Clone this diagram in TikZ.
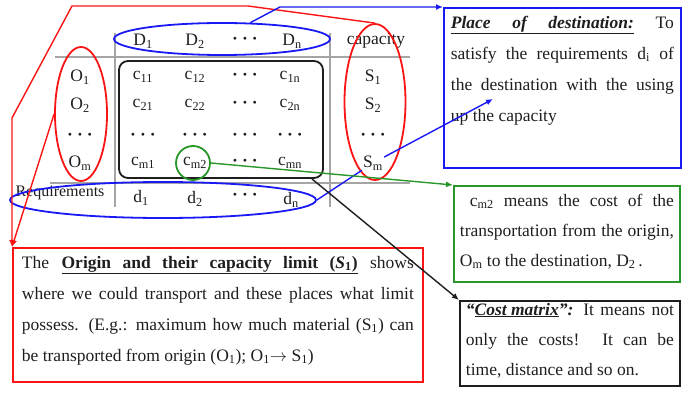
\documentclass[tikz,border=0pt]{standalone}
\usepackage{fontspec}
\setmainfont{Liberation Serif}
\usetikzlibrary{arrows.meta,positioning,shapes.geometric}

\definecolor{linered}{RGB}{250,20,20}
\definecolor{lineblue}{RGB}{25,25,245}
\definecolor{linegreen}{RGB}{40,150,40}
\definecolor{gridgray}{RGB}{165,165,165}
\definecolor{inkgray}{RGB}{30,30,30}

\newcommand{\tdots}{\textbf{·\hspace{4pt}·\hspace{4pt}·}}

\begin{document}
\begin{tikzpicture}[
    x=1pt, y=-1pt,
    font=\fontsize{17.5}{31}\selectfont,
    every node/.style={text=inkgray},
    cell/.style={inner sep=1pt},
    ring/.style={draw, ellipse, line width=1.8pt, inner sep=0pt},
    notebox/.style={draw, line width=1.8pt, anchor=north west, align=justify, inner ysep=8pt},
    arrow/.style={-{Latex[length=7pt,width=6pt]}, line width=1.4pt},
    gridline/.style={gridgray, line width=1.4pt}
  ]
    \useasboundingbox (0,0) rectangle (685,398);

    % table rules
    \draw[gridline] (55,57) -- (410,57);
    \draw[gridline] (50,183) -- (410,183);
    \draw[gridline] (115,33) -- (115,207);
    \draw[gridline] (330,33) -- (330,207);

    % header
    \node[cell] (d1) at (143,41) {D\textsubscript{1}};
    \node[cell] (d2) at (195,41) {D\textsubscript{2}};
    \node[cell] (ddots) at (245,41) {\tdots};
    \node[cell] (dn) at (292,41) {D\textsubscript{n}};
    \node[cell] (cap) at (376,41) {capacity};

    % rows
    \node[cell] (o1) at (80,77) {O\textsubscript{1}};
    \node[cell] (c11) at (143,77) {c\textsubscript{11}};
    \node[cell] (c12) at (195,77) {c\textsubscript{12}};
    \node[cell] (c1dots) at (245,77) {\tdots};
    \node[cell] (c1n) at (290,77) {c\textsubscript{1n}};
    \node[cell] (s1) at (373,77) {S\textsubscript{1}};

    \node[cell] (o2) at (80,105) {O\textsubscript{2}};
    \node[cell] (c21) at (143,105) {c\textsubscript{21}};
    \node[cell] (c22) at (195,105) {c\textsubscript{22}};
    \node[cell] (c2dots) at (245,105) {\tdots};
    \node[cell] (c2n) at (290,105) {c\textsubscript{2n}};
    \node[cell] (s2) at (373,105) {S\textsubscript{2}};

    \foreach \x [count=\k] in {80,143,195,245,290,373}
      \node[cell] (dots\k) at (\x,137) {\tdots};

    \node[cell] (om) at (80,163) {O\textsubscript{m}};
    \node[cell] (cm1) at (143,163) {c\textsubscript{m1}};
    \node[cell] (cm2) at (195,163) {c\textsubscript{m2}};
    \node[cell] (cmdots) at (245,163) {\tdots};
    \node[cell] (cmn) at (290,163) {c\textsubscript{mn}};
    \node[cell] (sm) at (373,163) {S\textsubscript{m}};

    % requirements
    \node[cell, font=\fontsize{16}{20}\selectfont] (req) at (60,193) {Requirements};
    \node[cell] (r1) at (141,198) {d\textsubscript{1}};
    \node[cell] (r2) at (195,199) {d\textsubscript{2}};
    \node[cell] (rdots) at (245,197) {\tdots};
    \node[cell] (rn) at (291,200) {d\textsubscript{n}};

    % marks on the table
    \node[ring, draw=lineblue, minimum width=216pt, minimum height=32pt] (destell) at (222,39) {};
    \node[ring, draw=linered, minimum width=52pt, minimum height=134pt] (origell) at (81,114) {};
    \node[ring, draw=linered, minimum width=61pt, minimum height=156pt] (capell) at (375,102) {};
    \node[ring, draw=lineblue, minimum width=306pt, minimum height=36pt] (reqell) at (163,200) {};
    \node[draw=inkgray, line width=1.8pt, rounded corners=9pt, minimum width=204pt, minimum height=117pt] (costrect) at (221,119.5) {};
    \node[draw=linegreen, circle, line width=1.8pt, minimum size=34pt, inner sep=0pt] (cmring) at (193,163) {};

    % notes
    \node[notebox, draw=linered, text width=392pt, inner xsep=9pt, text depth=106pt] (originbox) at (12,247)
      {The \underline{\makebox[296pt][s]{\bfseries Origin and their capacity limit (\textit{S}\textsubscript{1})}} shows\linebreak
       where we could transport and these places what limit\linebreak
       possess. (E.g.: maximum how much material (S\textsubscript{1}) can\linebreak
       be transported from origin (O\textsubscript{1}); O\textsubscript{1}$\rightarrow$ S\textsubscript{1})};
    \node[notebox, draw=lineblue, text width=223pt, inner xsep=7pt, text depth=132pt] (destbox) at (443,7)
      {\textbf{\textit{\underline{\makebox[183pt][s]{Place of destination:}}}} To\linebreak
       satisfy the requirements d\textsubscript{i} of\linebreak
       the destination with the using\linebreak
       up the capacity};
    \node[notebox, draw=linegreen, text width=214pt, inner xsep=6pt, text depth=68pt, font=\fontsize{17.5}{30}\selectfont] (cmbox) at (453,185)
      {\hspace*{10pt}c\textsubscript{m2} means the cost of the\linebreak
       transportation from the origin,\linebreak
       O\textsubscript{m} to the destination, D\textsubscript{2}\,.};
    \node[notebox, draw=inkgray, text width=208pt, inner xsep=6pt, inner ysep=2pt, text depth=69pt, font=\fontsize{17.5}{30}\selectfont] (matrixbox) at (459,300)
      {\textbf{\textit{“\underline{Cost matrix}”:}} It means not\linebreak
       only the costs! It can be\linebreak
       time, distance and so on.};

    % connectors
    \coordinate (destpt) at (493,99);
    \draw[arrow, linered] (capell.north) -- (248,6) -- (72,6) -- (12,118) -- (originbox.north west);
    \draw[arrow, linered] (origell.west) -- (originbox.north west);
    \draw[arrow, lineblue] (destell.30) -- (280,7) -- (destbox.north west);
    \draw[lineblue, line width=1.4pt] (reqell.east) -- (sm);
    \draw[arrow, lineblue] (sm) -- (destpt);
    \draw[arrow, linegreen] (cmring.east) -- (cmbox.north west);
    \draw[arrow, inkgray] ([xshift=-12pt]costrect.south east) -- (matrixbox.north west);
  \end{tikzpicture}
\end{document}
